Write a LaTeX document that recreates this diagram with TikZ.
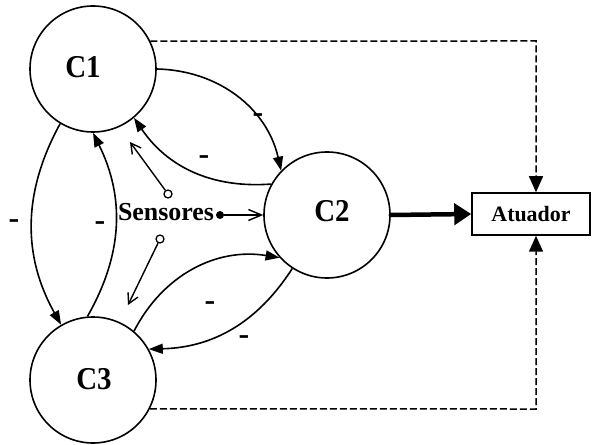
\documentclass[tikz,border=0pt]{standalone}
\usepackage{fontspec}
\setmainfont{Liberation Serif}
\usetikzlibrary{arrows.meta}
\begin{document}
\begin{tikzpicture}[x=1bp,y=1bp,
  circ/.style={draw, circle, minimum size=126bp, inner sep=0pt, line width=1.6bp},
  clabel/.style={font=\fontsize{29}{29}\selectfont\bfseries, inner sep=0pt, yscale=1.1},
  minus/.style={font=\fontsize{32}{32}\selectfont\bfseries, inner sep=0pt},
  link/.style={line width=1.6bp, -{Triangle[length=14bp,width=10bp]}},
  feedback/.style={line width=1.5bp, dash pattern=on 7bp off 3bp, -{Triangle[length=16bp,width=14bp]}},
  probe/.style={line width=1.4bp, -{Straight Barb[length=10bp,width=11bp]}},
  ring/.style={circle, draw, line width=1.3bp, fill=white, inner sep=0pt, minimum size=8bp},
]
\fill[white] (0,0) rectangle (593,-445);
\useasboundingbox (0,0) rectangle (593,-445);

% controllers
\node[circ] (c1) at (93,-69) {};
\node[circ] (c2) at (327,-215) {};
\node[circ] (c3) at (93,-380) {};
\node[clabel] (l1) at (83,-67) {C1};
\node[clabel] (l2) at (332,-211) {C2};
\node[clabel] (l3) at (94,-379) {C3};

% actuator
\node[draw, line width=1.5bp, minimum width=118bp, minimum height=42bp, inner sep=0pt,
      font=\fontsize{22}{22}\selectfont\bfseries] (act) at (531,-214) {Atuador};

% coupling between controllers
\draw[link] (c1.0)   to[bend left=38]  (c2.136);
\draw[link] (c2.151) to[bend left=30]  (c1.310);
\draw[link] (c1.239) to[bend right=29] (c3.120);
\draw[link] (c3.95)  to[bend right=28] (c1.270);
\draw[link] (c3.50)  to[bend left=36]  (c2.222);
\draw[link] (c2.237) to[bend left=28]  (c3.29);

\node[minus] (m1) at (258,-118) {-};
\node[minus] (m2) at (204,-160) {-};
\node[minus] (m3) at (14,-224) {-};
\node[minus] (m4) at (100,-226) {-};
\node[minus] (m5) at (210,-306) {-};
\node[minus] (m6) at (244,-340) {-};

% sensors
\node[font=\fontsize{26}{26}\selectfont\bfseries, inner sep=0pt] (sens) at (166,-212) {Sensores};
\node[circle, fill, inner sep=0pt, minimum size=8bp] (dot) at (220,-215) {};
\node[ring] (r1) at (168,-194) {};
\node[ring] (r2) at (160,-239) {};
\coordinate (p1) at (130,-142);
\coordinate (p3) at (128,-305);
\draw[line width=1.4bp, -{Straight Barb[length=13bp,width=11bp]}] (dot) -- (c2.west);
\draw[probe] (r1) -- (p1);
\draw[probe] (r2) -- (p3);

% command to the actuator
\draw[line width=4.5bp, line cap=round, -{Triangle[length=17bp,width=21bp]}] (c2.east) -- (act.west);

% feedback from C1 and C3
\coordinate (k1) at (536,-41);
\coordinate (k3) at (536,-409);
\draw[feedback] (c1.26) -- (k1) -- (k1 |- act.north);
\draw[feedback] (c3.-27) -- (k3) -- (k3 |- act.south);
\end{tikzpicture}
\end{document}
